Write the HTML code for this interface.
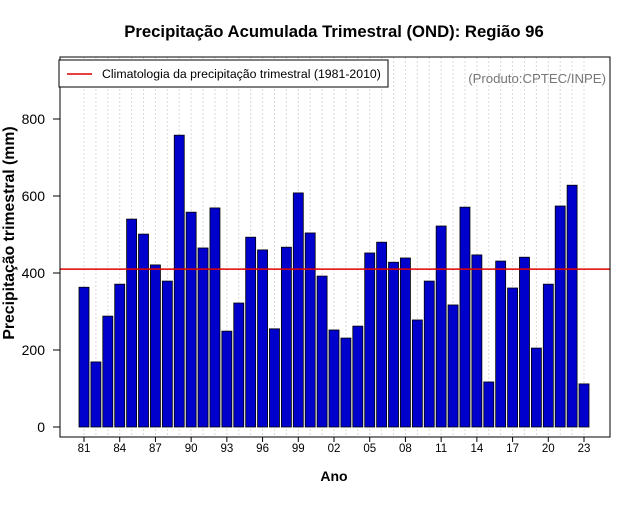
<!DOCTYPE html>
<html><head><meta charset="utf-8"><style>
body{margin:0;background:#fff}
svg text{font-family:"Liberation Sans",sans-serif}
</style></head><body>
<svg id="chart" width="640" height="500" xmlns="http://www.w3.org/2000/svg">
<rect width="640" height="500" fill="#fff"/>
<text x="334" y="37" text-anchor="middle" font-size="16.7" font-weight="bold">Precipitação Acumulada Trimestral (OND): Região 96</text>
<g id="grid"></g>
<g id="bars"></g>
<g id="axes"></g>
<rect x="60" y="57" width="550" height="380" fill="none" stroke="#000" stroke-width="1"/>
<rect x="59" y="60" width="329" height="27" fill="#fff" stroke="#000"/>
<line x1="67" y1="74" x2="92" y2="74" stroke="#e00000" stroke-width="1.5"/>
<text x="102" y="78" font-size="12.3">Climatologia da precipitação trimestral (1981-2010)</text>
<text x="606" y="83" text-anchor="end" font-size="13.2" fill="#777">(Produto:CPTEC/INPE)</text>
<text x="334" y="481" text-anchor="middle" font-size="14" font-weight="bold">Ano</text>
<text transform="translate(14,233) rotate(-90)" text-anchor="middle" font-size="15.8" font-weight="bold">Precipitação trimestral (mm)</text>
</svg>
<script>
const years=[1981,1982,1983,1984,1985,1986,1987,1988,1989,1990,1991,1992,1993,1994,1995,1996,1997,1998,1999,2000,2001,2002,2003,2004,2005,2006,2007,2008,2009,2010,2011,2012,2013,2014,2015,2016,2017,2018,2019,2020,2021,2022,2023];
const values=[363,169,288,371,540,501,421,379,758,558,465,569,249,322,493,460,255,467,608,504,392,252,231,262,452,480,428,439,278,379,522,317,571,447,117,431,361,441,205,371,574,628,112];
const climatology=410;
const yTicks=[0,200,400,600,800];
const NS="http://www.w3.org/2000/svg";
const x0=84,dx=11.905,y0=427,ky=308/800;
const xs=i=>x0+i*dx, ys=v=>y0-v*ky;
function mk(t,a,p){const e=document.createElementNS(NS,t);for(const k in a)e.setAttribute(k,a[k]);p.appendChild(e);return e;}
const grid=document.getElementById('grid'),bars=document.getElementById('bars'),axes=document.getElementById('axes');
years.forEach((y,i)=>{
  const g=mk('line',{x1:xs(i),x2:xs(i),y1:57,y2:437,stroke:'#d8d8d8','stroke-dasharray':'2,2'},grid);
  
  
  const r=mk('rect',{x:xs(i)-5,y:ys(values[i]),width:10,height:values[i]*ky,fill:'#0000cd',stroke:'#000','stroke-width':0.8},bars);
  
  
  if(i%3===0){
    const t=mk('line',{x1:xs(i),x2:xs(i),y1:437,y2:442,stroke:'#000'},axes);
    
    
    const l=mk('text',{x:xs(i),y:452,'text-anchor':'middle','font-size':11.5},axes);
    l.textContent=String(y%100).padStart(2,'0');
    
    
  }
});
yTicks.forEach(v=>{
  const t=mk('line',{x1:53,x2:60,y1:ys(v),y2:ys(v),stroke:'#000'},axes);
  
  
  const l=mk('text',{x:45,y:ys(v)+5,'text-anchor':'end','font-size':14},axes);
  l.textContent=v;
  
  
});
const cl=mk('line',{x1:60,x2:610,y1:ys(climatology),y2:ys(climatology),stroke:'#e00000','stroke-width':1.5},axes);


</script>
</body></html>
